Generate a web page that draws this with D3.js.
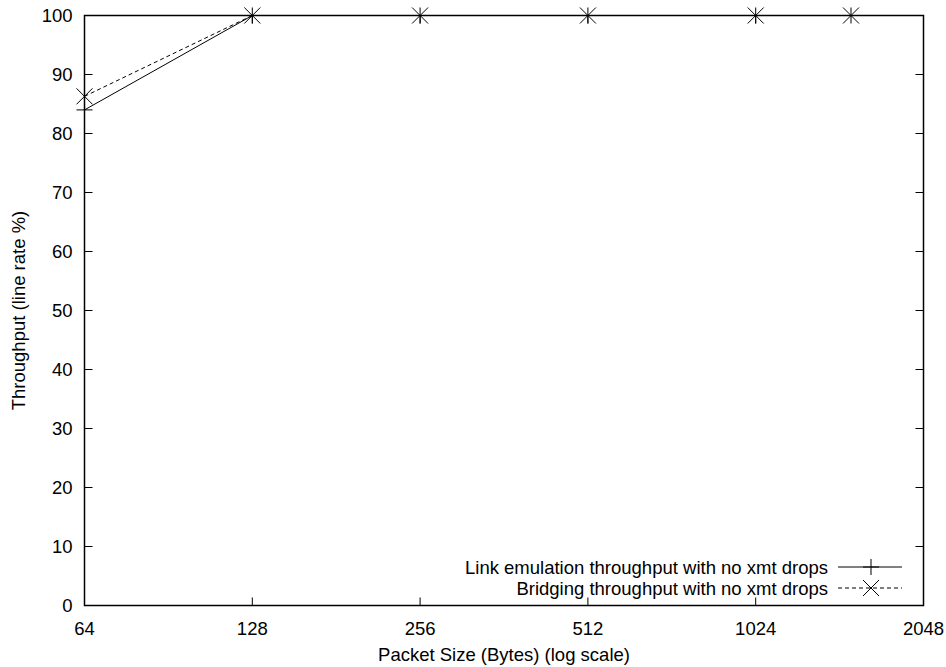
<!DOCTYPE html>
<html>
<head>
<meta charset="utf-8">
<script src="https://cdn.jsdelivr.net/npm/d3@7"></script>
<style>
  body { margin: 0; background: #fff; }
  text { font-family: "Liberation Sans", Arial, sans-serif; font-size: 18.5px; fill: #000; }
</style>
</head>
<body>
<svg id="chart" width="946" height="667"></svg>
<script>
  // data
  var packetSizes = [64, 128, 256, 512, 1024, 1518];
  var linkEmulation = [84.0, 100, 100, 100, 100, 100];
  var bridging = [86.3, 100, 100, 100, 100, 100];
  var xTicks = [64, 128, 256, 512, 1024, 2048];
  var yTicks = [0, 10, 20, 30, 40, 50, 60, 70, 80, 90, 100];
  var seriesNames = ["Link emulation throughput with no xmt drops", "Bridging throughput with no xmt drops"];

  var mLeft = 84.5, mRight = 923.5, mTop = 15.5, mBottom = 605.5;
  var svg = d3.select("#chart");

  var x = d3.scaleLog().base(2).domain([64, 2048]).range([mLeft, mRight]);
  var y = d3.scaleLinear().domain([0, 100]).range([mBottom, mTop]);

  // ticks, mirrored on all sides (inward)
  var tickLen = 8;
  var ax = svg.append("g").attr("stroke", "#000").attr("stroke-width", 1);
  yTicks.forEach(function(t) {
    ax.append("line").attr("x1", mLeft).attr("x2", mLeft + tickLen).attr("y1", y(t)).attr("y2", y(t));
    ax.append("line").attr("x1", mRight).attr("x2", mRight - tickLen).attr("y1", y(t)).attr("y2", y(t));
  });
  xTicks.forEach(function(t) {
    ax.append("line").attr("x1", x(t)).attr("x2", x(t)).attr("y1", mBottom).attr("y2", mBottom - tickLen);
    ax.append("line").attr("x1", x(t)).attr("x2", x(t)).attr("y1", mTop).attr("y2", mTop + tickLen);
  });

  svg.selectAll(".ylab").data(yTicks).enter().append("text")
    .attr("x", mLeft - 12).attr("y", function(d) { return y(d) + 6.5; })
    .attr("text-anchor", "end").text(function(d) { return d; });

  svg.selectAll(".xlab").data(xTicks).enter().append("text")
    .attr("x", function(d) { return x(d); }).attr("y", mBottom + 29)
    .attr("text-anchor", "middle").text(function(d) { return d; });

  svg.append("text").attr("x", (mLeft + mRight) / 2).attr("y", 661)
    .attr("text-anchor", "middle").text("Packet Size (Bytes) (log scale)");

  svg.append("text").attr("transform", "translate(25," + ((mTop + mBottom) / 2) + ") rotate(-90)")
    .attr("text-anchor", "middle").text("Throughput (line rate %)");

  // markers
  function plus(g, cx, cy) {
    var s = 8;
    g.append("path").attr("d", "M" + (cx - s) + "," + cy + "H" + (cx + s) + "M" + cx + "," + (cy - s) + "V" + (cy + s))
      .attr("stroke", "#000").attr("fill", "none");
  }
  function cross(g, cx, cy) {
    var s = 8;
    g.append("path").attr("d", "M" + (cx - s) + "," + (cy - s) + "L" + (cx + s) + "," + (cy + s) +
      "M" + (cx - s) + "," + (cy + s) + "L" + (cx + s) + "," + (cy - s))
      .attr("stroke", "#000").attr("fill", "none");
  }

  var series = [
    { values: linkEmulation, dash: null, marker: plus },
    { values: bridging, dash: "4,3", marker: cross }
  ];

  var line = d3.line().x(function(d) { return x(d[0]); }).y(function(d) { return y(d[1]); });

  var plotG = svg.append("g");
  series.forEach(function(s) {
    var pts = packetSizes.map(function(p, i) { return [p, s.values[i]]; });
    plotG.append("path").attr("d", line(pts)).attr("fill", "none")
      .attr("stroke", "#000").attr("stroke-width", 1).attr("stroke-dasharray", s.dash);
    pts.forEach(function(p) { s.marker(plotG, x(p[0]), y(p[1])); });
  });

  // frame
  svg.append("rect").attr("x", mLeft).attr("y", mTop).attr("width", mRight - mLeft).attr("height", mBottom - mTop)
    .attr("fill", "none").attr("stroke", "#000").attr("stroke-width", 1.5);

  // legend
  series.forEach(function(s, i) {
    var ly = 567 + i * 21;
    svg.append("text").attr("x", 828).attr("y", ly + 6.5).attr("text-anchor", "end").text(seriesNames[i]);
    svg.append("line").attr("x1", 838).attr("x2", 902).attr("y1", ly).attr("y2", ly)
      .attr("stroke", "#000").attr("stroke-dasharray", s.dash);
    s.marker(svg, 871, ly);
  });
</script>
</body>
</html>
